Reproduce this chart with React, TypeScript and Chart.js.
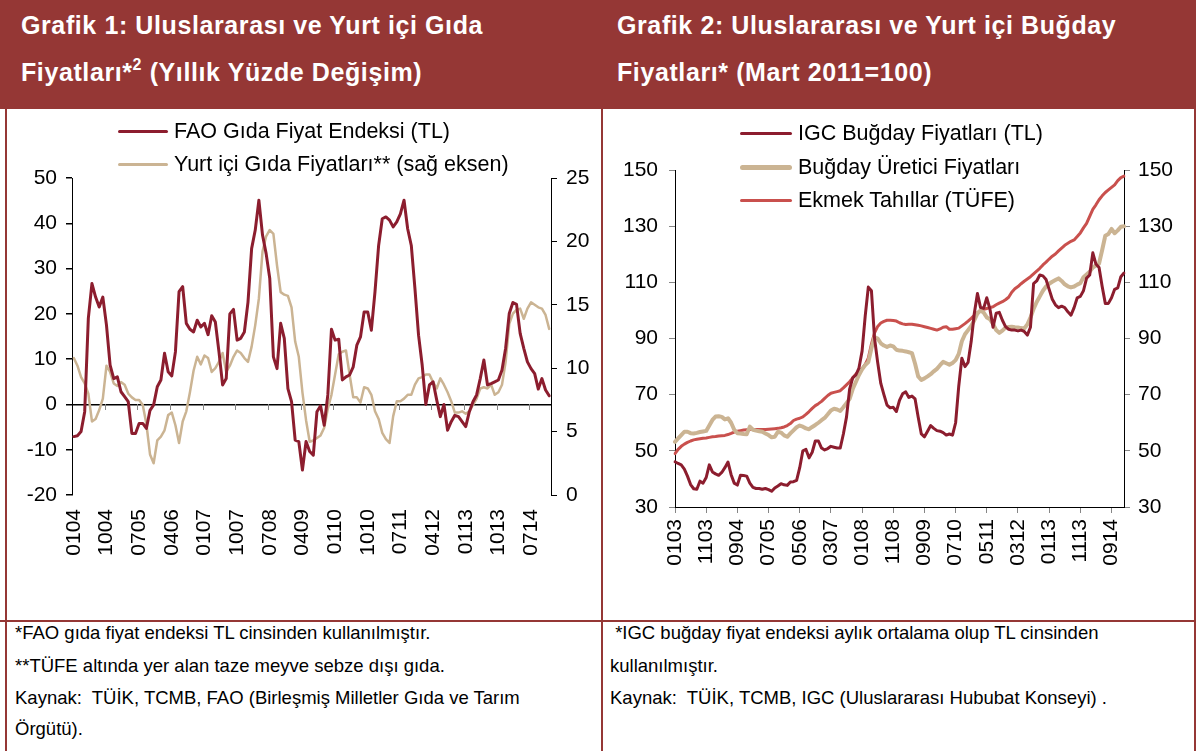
import React, { useEffect, useRef } from 'react';
import { Chart, registerables } from 'chart.js';

Chart.register(...registerables);

const FONT = 'Arial, "Liberation Sans", Helvetica, sans-serif';
const HEADER_BG = '#953735';
const C_DARK = '#8C1D2E';
const C_TAN = '#CBB493';
const C_RED = '#C9504D';

function monthLabels(startYear: number, count: number): string[] {
  const out: string[] = [];
  for (let i = 0; i < count; i++) {
    const m = (i % 12) + 1;
    const y = (startYear + Math.floor(i / 12)) % 100;
    out.push(String(m).padStart(2, '0') + String(y).padStart(2, '0'));
  }
  return out;
}

// ---------- Grafik 1 (Jan 2004 - Dec 2014) ----------
const g1Months = monthLabels(2004, 132);
const g1LabelEvery = 9;
const faoFood = [
  -7.1, -6.9, -6.0, -1.6, 19.0, 26.7, 23.7, 21.5, 23.7, 17.5, 8.7, 5.7,
  6.1, 2.8, 1.7, 0.6, -6.4, -6.4, -4.2, -4.2, -5.3, -1.3, -0.1, 3.9,
  5.4, 11.3, 7.2, 6.3, 11.6, 24.9, 26.0, 17.9, 16.6, 16.0, 18.6, 17.1,
  17.9, 15.4, 19.6, 18.2, 11.6, 4.3, 5.7, 20.0, 21.0, 14.2, 14.6, 16.0,
  22.6, 34.4, 38.5, 45.1, 37.4, 33.3, 27.8, 10.5, 7.9, 17.9, 14.6, 3.5,
  0.6, -7.9, -8.2, -14.5, -8.2, -10.4, -11.2, -1.6, -0.3, -4.6, 2.1, 16.6,
  14.2, 14.4, 5.4, 6.1, 6.5, 8.3, 13.1, 14.9, 20.4, 20.4, 16.4, 24.9,
  35.1, 41.0, 41.4, 40.7, 39.2, 40.3, 42.1, 45.1, 38.8, 35.1, 25.6, 15.3,
  8.7, 0.0, 4.3, 5.0, 1.0, -2.7, 0.0, -5.7, -3.8, -2.4, -2.7, -3.8,
  -4.9, -1.6, 0.6, 2.1, 5.7, 9.8, 4.3, 4.6, 5.0, 5.4, 7.6, 12.4,
  20.1, 22.5, 22.1, 15.7, 12.4, 9.4, 7.9, 6.8, 3.4, 5.7, 3.2, 1.9,
];
const domesticFood = [
  10.8, 10.2, 9.3, 8.8, 8.0, 5.8, 6.0, 6.7, 7.6, 10.2, 9.7, 8.8,
  8.6, 8.9, 8.7, 8.0, 7.7, 7.5, 7.5, 7.1, 5.6, 3.2, 2.5, 4.3,
  4.6, 5.1, 6.3, 6.5, 5.5, 4.1, 5.8, 6.6, 8.1, 9.8, 10.9, 10.3,
  11.0, 10.8, 9.7, 10.0, 10.5, 11.2, 9.7, 10.2, 10.9, 11.4, 11.2, 10.8,
  10.5, 11.7, 13.4, 15.5, 19.2, 20.4, 20.9, 20.6, 18.1, 16.0, 15.8, 15.7,
  14.8, 12.1, 10.9, 8.1, 5.9, 4.2, 4.3, 4.5, 4.7, 5.3, 6.8, 7.9,
  9.5, 11.1, 11.3, 11.4, 9.5, 7.7, 7.7, 7.3, 8.5, 8.4, 7.9, 6.6,
  6.0, 4.9, 4.4, 4.1, 6.2, 7.4, 7.4, 7.6, 7.9, 7.9, 8.7, 9.2,
  9.3, 9.5, 9.5, 8.9, 8.4, 9.2, 8.7, 8.1, 7.4, 6.5, 6.5, 6.6,
  6.4, 6.6, 7.1, 7.6, 8.4, 8.5, 8.4, 8.7, 7.9, 8.1, 8.7, 10.5,
  13.5, 14.3, 14.6, 14.7, 13.9, 14.7, 15.2, 15.0, 14.8, 14.7, 14.2, 13.1,
];
const g1LeftMin = -20;
const g1LeftMax = 50;
const g1LeftStep = 10;
const g1RightMin = 0;
const g1RightMax = 25;
const g1RightStep = 5;

// ---------- Grafik 2 (Jan 2003 - Jan 2015) ----------
const g2Months = monthLabels(2003, 145);
const g2LabelEvery = 10;
const igcWheat = [
  46.1, 45.5, 45.0, 43.5, 41.0, 38.0, 36.5, 36.3, 39.2, 38.5, 40.5, 45.0,
  42.5, 41.8, 41.3, 42.3, 44.0, 46.0, 41.5, 38.5, 37.8, 41.3, 41.2, 41.0,
  38.5, 37.0, 36.6, 36.6, 36.3, 36.6, 36.2, 35.6, 36.8, 37.5, 38.3, 37.9,
  37.7, 38.9, 39.0, 39.5, 44.0, 50.0, 50.5, 47.5, 49.5, 53.5, 53.5, 51.0,
  50.3, 50.8, 51.6, 51.3, 51.0, 51.0, 56.0, 62.0, 72.0, 76.0, 77.0, 79.5,
  85.5, 98.0, 108.3, 107.0, 90.0, 81.5, 74.0, 70.0, 66.3, 65.3, 65.5, 64.0,
  68.0, 70.3, 71.0, 69.0, 69.5, 68.5, 62.0, 56.0, 55.0, 57.0, 59.0, 58.0,
  57.2, 57.0, 56.5, 55.6, 56.0, 55.6, 60.0, 73.0, 83.0, 80.0, 81.5, 89.0,
  99.0, 106.0, 101.0, 100.8, 104.5, 100.5, 94.0, 99.0, 99.3, 96.5, 94.2, 93.3,
  93.0, 93.0, 92.7, 93.0, 92.5, 91.2, 94.0, 109.5, 110.5, 112.6, 112.3, 111.0,
  107.5, 104.0, 102.0, 101.0, 101.5, 101.0, 99.5, 98.3, 101.0, 104.5, 105.0, 107.0,
  111.5, 112.6, 120.5, 116.5, 115.3, 108.5, 102.5, 102.5, 104.5, 107.5, 108.0, 112.0,
  113.3,
];
const wheatProducer = [
  53.2, 54.4, 55.6, 56.8, 56.8, 56.3, 56.2, 56.4, 56.7, 56.9, 57.1, 59.0,
  61.0, 62.2, 62.3, 62.1, 61.2, 61.6, 60.0, 57.5, 56.3, 56.2, 56.0, 55.9,
  58.6, 57.5, 57.2, 57.0, 56.8, 56.2, 55.6, 54.8, 55.0, 56.8, 56.5, 55.5,
  55.0, 56.2, 57.3, 58.4, 59.0, 58.6, 58.0, 57.7, 58.5, 59.2, 60.0, 60.9,
  61.7, 63.0, 64.4, 65.0, 64.7, 64.2, 65.5, 67.0, 68.5, 72.0, 74.5, 77.0,
  79.0, 80.5, 81.6, 86.5, 90.5, 90.0, 88.3, 87.5, 87.0, 87.5, 87.2, 86.0,
  85.7, 85.6, 85.4, 85.1, 84.8, 81.0, 76.5, 75.2, 75.8, 76.5, 77.3, 78.3,
  79.2, 80.5, 81.7, 81.2, 80.7, 81.3, 82.3, 84.5, 89.0, 91.5, 93.0, 94.5,
  96.5, 98.9, 100.0, 99.2, 97.5, 96.9, 95.2, 93.0, 92.0, 92.8, 93.9, 94.1,
  94.2, 94.0, 93.9, 93.7, 93.6, 95.0, 97.5, 100.5, 103.0, 105.0, 107.0, 108.5,
  109.5, 110.2, 110.8, 111.4, 110.5, 109.3, 108.6, 108.2, 108.5, 109.2, 109.7, 111.8,
  112.8, 113.8, 115.3, 116.0, 116.7, 121.5, 126.6, 127.2, 129.0, 127.5, 128.5, 129.8,
  130.0,
];
const breadCereals = [
  49.0, 50.5, 51.6, 52.4, 53.0, 53.5, 53.9, 54.1, 54.3, 54.5, 54.6, 54.8,
  55.0, 55.1, 55.3, 55.4, 55.5, 55.8, 56.2, 56.7, 57.0, 57.2, 57.4, 57.5,
  57.6, 57.6, 57.6, 57.6, 57.6, 57.6, 57.7, 57.8, 57.9, 58.0, 58.2, 58.5,
  59.0, 59.7, 60.8, 61.3, 61.6, 62.1, 63.0, 64.0, 65.1, 66.1, 66.8, 67.6,
  68.7, 69.7, 70.5, 70.8, 71.1, 71.4, 72.4, 73.5, 74.6, 76.0, 77.3, 78.3,
  79.3, 80.8, 83.0, 88.0, 92.0, 94.3, 95.5, 96.1, 96.5, 96.5, 96.4, 96.2,
  95.6, 95.2, 95.0, 95.1, 95.1, 94.9, 94.7, 94.5, 94.2, 93.9, 93.6, 93.3,
  93.0, 93.4, 94.0, 94.2, 93.3, 93.3, 93.5, 93.7, 94.5, 95.3, 96.2, 97.2,
  98.3, 99.2, 100.0, 100.4, 100.7, 101.0, 101.3, 102.0, 102.6, 103.1, 103.8, 104.7,
  106.5, 107.7, 108.5, 109.5, 110.4, 111.2, 112.0, 113.0, 114.0, 115.0, 116.2, 117.2,
  118.3, 119.3, 120.1, 121.2, 122.2, 123.2, 123.9, 124.6, 125.1, 126.3, 127.6, 129.4,
  131.0, 133.5, 136.0, 137.6, 139.4, 140.8, 142.0, 142.9, 143.8, 144.7, 146.2, 147.3,
  147.8,
];
const g2Min = 30;
const g2Max = 150;
const g2Step = 20;

const tickFont = { family: FONT, size: 21 };

const zeroLineTicks = {
  id: 'zeroLineTicks',
  beforeDatasetsDraw(chart: any) {
    const xs = chart.scales.x;
    const ys = chart.scales.y;
    const ctx = chart.ctx;
    const y0 = Math.round(ys.getPixelForValue(0));
    const half = (xs.getPixelForValue(1) - xs.getPixelForValue(0)) / 2;
    ctx.save();
    ctx.strokeStyle = '#868686';
    ctx.lineWidth = 1;
    ctx.beginPath();
    for (let k = g1LabelEvery; k < g1Months.length; k += g1LabelEvery) {
      const px = Math.round(xs.getPixelForValue(k) - half) + 0.5;
      ctx.moveTo(px, y0);
      ctx.lineTo(px, y0 + 6);
    }
    ctx.stroke();
    ctx.restore();
  },
};

function Chart1() {
  const ref = useRef<HTMLCanvasElement>(null);
  useEffect(() => {
    const chart = new Chart(ref.current as HTMLCanvasElement, {
      type: 'line',
      data: {
        labels: g1Months,
        datasets: [
          {
            label: 'FAO Gıda Fiyat Endeksi (TL)',
            data: faoFood,
            borderColor: C_DARK,
            borderWidth: 3,
            pointRadius: 0,
            tension: 0,
            borderJoinStyle: 'round',
            borderCapStyle: 'round',
            yAxisID: 'y',
          },
          {
            label: 'Yurt içi Gıda Fiyatları** (sağ eksen)',
            data: domesticFood,
            borderColor: C_TAN,
            borderWidth: 2.5,
            pointRadius: 0,
            tension: 0,
            borderJoinStyle: 'round',
            borderCapStyle: 'round',
            yAxisID: 'y1',
          },
        ],
      },
      options: {
        animation: false,
        responsive: false,
        maintainAspectRatio: false,
        layout: { padding: { top: 68, left: 0, right: 0, bottom: 0 } },
        plugins: { legend: { display: false }, tooltip: { enabled: false } },
        scales: {
          x: {
            type: 'category',
            offset: true,
            border: { display: false },
            grid: { display: false },
            ticks: {
              autoSkip: false,
              maxRotation: 90,
              minRotation: 90,
              padding: 6,
              color: '#000',
              font: tickFont,
              callback: (_v: any, i: number) => (i % g1LabelEvery === 0 ? g1Months[i] : ''),
            },
            afterFit: (s: any) => {
              s.height = 125;
            },
          },
          y: {
            position: 'left',
            min: g1LeftMin,
            max: g1LeftMax,
            border: { display: true, color: '#000', width: 1 },
            grid: {
              drawOnChartArea: true,
              drawTicks: true,
              tickLength: 6,
              tickColor: '#000',
              color: (c: any) => (c.tick && c.tick.value === 0 ? '#000' : 'rgba(0,0,0,0)'),
              lineWidth: 1.5,
            },
            ticks: { stepSize: g1LeftStep, padding: 9, color: '#000', font: tickFont },
            afterFit: (s: any) => {
              s.width = 72;
            },
          },
          y1: {
            position: 'right',
            min: g1RightMin,
            max: g1RightMax,
            border: { display: true, color: '#000', width: 1 },
            grid: { drawOnChartArea: false, drawTicks: true, tickLength: 6, color: '#000' },
            ticks: { stepSize: g1RightStep, padding: 9, color: '#000', font: tickFont },
            afterFit: (s: any) => {
              s.width = 49;
            },
          },
        },
      },
      plugins: [zeroLineTicks],
    } as any);
    return () => chart.destroy();
  }, []);
  return <canvas ref={ref} width={600} height={510} style={{ position: 'absolute', left: 0, top: 110, width: 600, height: 510 }} />;
}

function Chart2() {
  const ref = useRef<HTMLCanvasElement>(null);
  useEffect(() => {
    const common = { pointRadius: 0, tension: 0, borderJoinStyle: 'round', borderCapStyle: 'round' };
    const chart = new Chart(ref.current as HTMLCanvasElement, {
      type: 'line',
      data: {
        labels: g2Months,
        datasets: [
          { label: 'IGC Buğday Fiyatları (TL)', data: igcWheat, borderColor: C_DARK, borderWidth: 3, ...common },
          { label: 'Buğday Üretici Fiyatları', data: wheatProducer, borderColor: C_TAN, borderWidth: 4, ...common },
          { label: 'Ekmek Tahıllar (TÜFE)', data: breadCereals, borderColor: C_RED, borderWidth: 3, ...common },
        ],
      },
      options: {
        animation: false,
        responsive: false,
        maintainAspectRatio: false,
        layout: { padding: { top: 60, left: 0, right: 0, bottom: 0 } },
        plugins: { legend: { display: false }, tooltip: { enabled: false } },
        scales: {
          x: {
            type: 'category',
            offset: false,
            border: { display: true, color: '#000', width: 1 },
            grid: {
              drawOnChartArea: false,
              drawTicks: true,
              tickLength: 6,
              color: (c: any) => (c.index % g2LabelEvery === 0 ? '#868686' : 'rgba(0,0,0,0)'),
            },
            ticks: {
              autoSkip: false,
              maxRotation: 90,
              minRotation: 90,
              padding: 6,
              color: '#000',
              font: tickFont,
              callback: (_v: any, i: number) => (i % g2LabelEvery === 0 ? g2Months[i] : ''),
            },
            afterFit: (s: any) => {
              s.height = 113;
            },
          },
          y: {
            position: 'left',
            min: g2Min,
            max: g2Max,
            border: { display: true, color: '#000', width: 1 },
            grid: { drawOnChartArea: false, drawTicks: true, tickLength: 6, color: '#868686' },
            ticks: { stepSize: g2Step, padding: 11, color: '#000', font: tickFont },
            afterFit: (s: any) => {
              s.width = 72;
            },
          },
          y1: {
            position: 'right',
            min: g2Min,
            max: g2Max,
            border: { display: true, color: '#000', width: 1 },
            grid: { drawOnChartArea: false, drawTicks: true, tickLength: 6, color: '#868686' },
            ticks: { stepSize: g2Step, padding: 8, color: '#000', font: tickFont },
            afterFit: (s: any) => {
              s.width = 69;
            },
          },
        },
      },
    } as any);
    return () => chart.destroy();
  }, []);
  return <canvas ref={ref} width={590} height={510} style={{ position: 'absolute', left: 603, top: 110, width: 590, height: 510 }} />;
}

function LegendRow(props: { x: number; y: number; color: string; width: number; text: string; lineLen: number }) {
  const { x, y, color, width, text, lineLen } = props;
  return (
    <div style={{ position: 'absolute', left: x, top: y - 14, height: 28, display: 'flex', alignItems: 'center', whiteSpace: 'nowrap' }}>
      <div style={{ width: lineLen, height: width, background: color, borderRadius: width / 2, marginRight: 6 }} />
      <span style={{ fontFamily: FONT, fontSize: 21.5, color: '#000', lineHeight: '28px' }}>{text}</span>
    </div>
  );
}

const headerText: React.CSSProperties = {
  position: 'absolute',
  color: '#fff',
  fontFamily: FONT,
  fontWeight: 'bold',
  fontSize: 25,
  letterSpacing: 0.6,
  whiteSpace: 'nowrap',
  lineHeight: '30px',
};

const noteText: React.CSSProperties = {
  position: 'absolute',
  fontFamily: FONT,
  fontSize: 18.5,
  color: '#000',
  whiteSpace: 'nowrap',
  lineHeight: '22px',
};

export default function App() {
  return (
    <div style={{ position: 'absolute', left: 0, top: 0, width: 1196, height: 751, background: '#fff', overflow: 'hidden' }}>
      <div style={{ position: 'absolute', left: 0, top: 0, width: 1196, height: 109, background: HEADER_BG }} />
      <div style={{ ...headerText, left: 21, top: 10 }}>Grafik 1: Uluslararası ve Yurt içi Gıda</div>
      <div style={{ ...headerText, left: 21, top: 57 }}>
        Fiyatları*<sup style={{ fontSize: 16, verticalAlign: 'top', position: 'relative', top: -7 }}>2</sup> (Yıllık Yüzde Değişim)
      </div>
      <div style={{ ...headerText, left: 617, top: 10 }}>Grafik 2: Uluslararası ve Yurt içi Buğday</div>
      <div style={{ ...headerText, left: 617, top: 57 }}>Fiyatları* (Mart 2011=100)</div>

      {/* frame lines */}
      <div style={{ position: 'absolute', left: 5, top: 109, width: 2, height: 642, background: HEADER_BG }} />
      <div style={{ position: 'absolute', left: 601, top: 109, width: 2, height: 642, background: HEADER_BG }} />
      <div style={{ position: 'absolute', left: 1194, top: 109, width: 2, height: 642, background: HEADER_BG }} />
      <div style={{ position: 'absolute', left: 0, top: 620, width: 1196, height: 2, background: HEADER_BG }} />

      <Chart1 />
      <Chart2 />

      <LegendRow x={118} y={131} color={C_DARK} width={3} lineLen={50} text="FAO Gıda Fiyat Endeksi (TL)" />
      <LegendRow x={118} y={164} color={C_TAN} width={3} lineLen={50} text="Yurt içi Gıda Fiyatları** (sağ eksen)" />

      <LegendRow x={740} y={133} color={C_DARK} width={3} lineLen={52} text="IGC Buğday Fiyatları (TL)" />
      <LegendRow x={740} y={167} color={C_TAN} width={5} lineLen={52} text="Buğday Üretici Fiyatları" />
      <LegendRow x={740} y={200} color={C_RED} width={3} lineLen={52} text="Ekmek Tahıllar (TÜFE)" />

      <div style={{ ...noteText, left: 15, top: 622 }}>*FAO gıda fiyat endeksi TL cinsinden kullanılmıştır.</div>
      <div style={{ ...noteText, left: 15, top: 655 }}>**TÜFE altında yer alan taze meyve sebze dışı gıda.</div>
      <div style={{ ...noteText, left: 15, top: 687 }}>Kaynak:&nbsp; TÜİK, TCMB, FAO (Birleşmiş Milletler Gıda ve Tarım</div>
      <div style={{ ...noteText, left: 15, top: 718 }}>Örgütü).</div>

      <div style={{ ...noteText, left: 610, top: 622 }}>&nbsp;*IGC buğday fiyat endeksi aylık ortalama olup TL cinsinden</div>
      <div style={{ ...noteText, left: 610, top: 655 }}>kullanılmıştır.</div>
      <div style={{ ...noteText, left: 610, top: 687 }}>Kaynak:&nbsp; TÜİK, TCMB, IGC (Uluslararası Hububat Konseyi) .</div>
    </div>
  );
}
